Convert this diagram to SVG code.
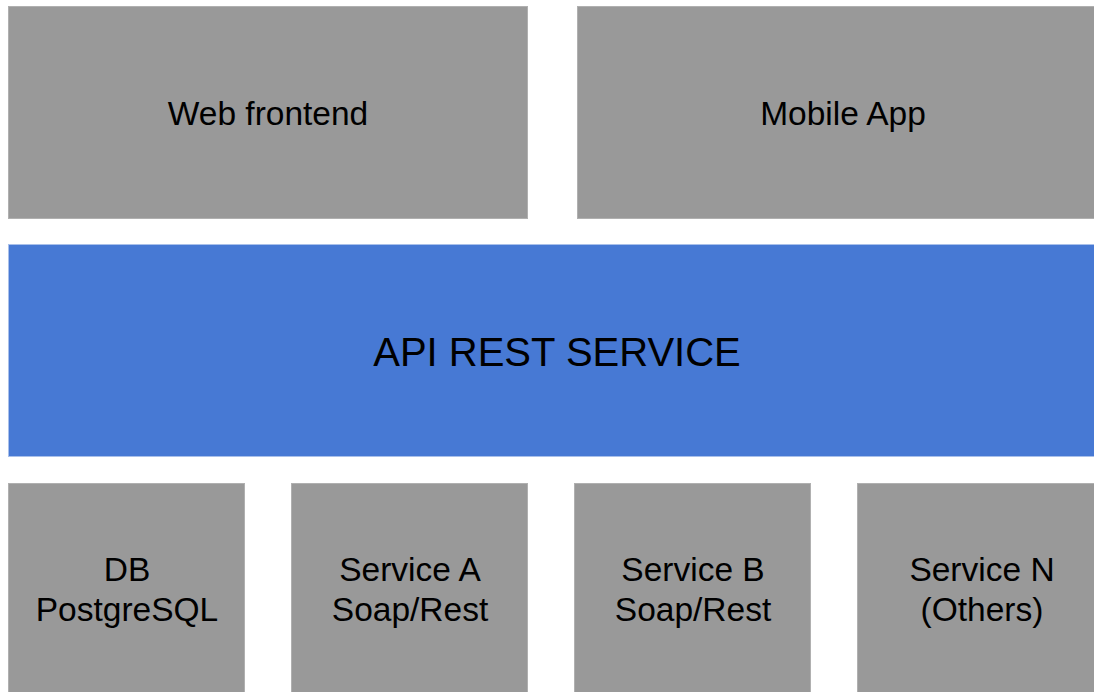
<svg xmlns="http://www.w3.org/2000/svg" width="1094" height="692" viewBox="0 0 1094 692">
<style>
.g{fill:#999999;stroke:#b0b0b0;stroke-width:1}
.b{fill:#4779d4;stroke:#a9c0ea;stroke-width:1}
text{font-family:"Liberation Sans",Arial,sans-serif;fill:#000;text-anchor:middle}
.t{font-size:33.5px}
.big{font-size:40px}
</style>
<rect width="1094" height="692" fill="#fff"/>
<g id="web"><rect class="g" x="8.5" y="6.5" width="519" height="212"/><text class="t" x="268" y="125">Web frontend</text></g>
<g id="mobile"><rect class="g" x="577.5" y="6.5" width="520" height="212"/><text class="t" x="843" y="125">Mobile App</text></g>
<g id="api"><rect class="b" x="8.5" y="244.5" width="1090" height="212"/><text class="big" x="557" y="366">API REST SERVICE</text></g>
<g id="db"><rect class="g" x="8.5" y="483.5" width="236" height="215"/><text class="t" x="127" y="581">DB</text><text class="t" x="127" y="621">PostgreSQL</text></g>
<g id="svcA"><rect class="g" x="291.5" y="483.5" width="236" height="215"/><text class="t" x="410" y="581">Service A</text><text class="t" x="410" y="621">Soap/Rest</text></g>
<g id="svcB"><rect class="g" x="574.5" y="483.5" width="236" height="215"/><text class="t" x="693" y="581">Service B</text><text class="t" x="693" y="621">Soap/Rest</text></g>
<g id="svcN"><rect class="g" x="857.5" y="483.5" width="240" height="215"/><text class="t" x="982" y="581">Service N</text><text class="t" x="982" y="621">(Others)</text></g>
<g id="connectors"></g>
</svg>
